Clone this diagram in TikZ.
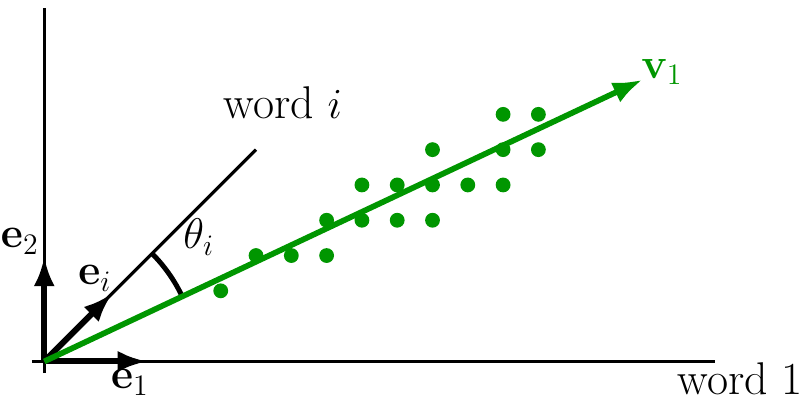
\documentclass[tikz,border=0pt]{standalone}
\usetikzlibrary{arrows.meta}
\definecolor{vgreen}{RGB}{0,150,0}
\begin{document}
\begin{tikzpicture}[x=0.5cm,y=0.5cm,
  axis/.style={line width=1.3pt},
  basisarrow/.style={line width=2.4pt,-{Latex[length=4.2mm,width=3mm]}},
  vecarrow/.style={line width=2.3pt,vgreen,-{Latex[length=4.2mm,width=3.1mm]}},
  dot/.style={circle,fill=vgreen,inner sep=0pt,minimum size=0.21cm},
  lbl/.style={font=\fontsize{18.5}{22}\selectfont,inner sep=0pt}]
\useasboundingbox (-1.254,-1.065) rectangle (21.61,10.24);
\coordinate (O) at (0,0);
\coordinate (xl) at (-0.35,0);
\coordinate (xr) at (19,0);
\coordinate (yb) at (0,-0.33);
\coordinate (yt) at (0,10);
\coordinate (E1) at (2.92,0);
\coordinate (E2) at (0,2.97);
\coordinate (Ei) at (1.93,1.93);
\coordinate (W) at (6,6);
\coordinate (V) at (16.95,7.98);
\draw[axis] (xl) -- (xr);
\draw[axis] (yb) -- (yt);
\draw[line width=1.3pt] (O) -- (W);
\draw[line width=2pt] (45:4.32) arc[start angle=45,end angle=25.2,radius=4.32];
\draw[basisarrow] (O) -- (E1);
\draw[basisarrow] (O) -- (E2);
\draw[basisarrow] (O) -- (Ei);
\foreach \p [count=\k] in {(5,2),(6,3),(7,3),(8,3),(8,4),(9,4),(10,4),(11,4),(9,5),(10,5),(11,5),(12,5),(13,5),(11,6),(13,6),(14,6),(13,7),(14,7)}
  \node[dot] (d\k) at \p {};
\draw[vecarrow] (O) -- (V);
\node[lbl] (le2) at (-0.69,3.4) {$\mathbf{e}_2$};
\node[lbl] (lei) at (1.44,2.35) {$\mathbf{e}_i$};
\node[lbl] (le1) at (2.43,-0.6) {$\mathbf{e}_1$};
\node[lbl] (lth) at (4.38,3.52) {$\theta_i$};
\node[lbl] (lwi) at (6.76,7.32) {word $i$};
\node[lbl] (lw1) at (19.72,-0.5) {word 1};
\node[lbl,text=vgreen] (lv) at (17.5,8.2) {$\mathbf{v}_1$};
\end{tikzpicture}
\end{document}
